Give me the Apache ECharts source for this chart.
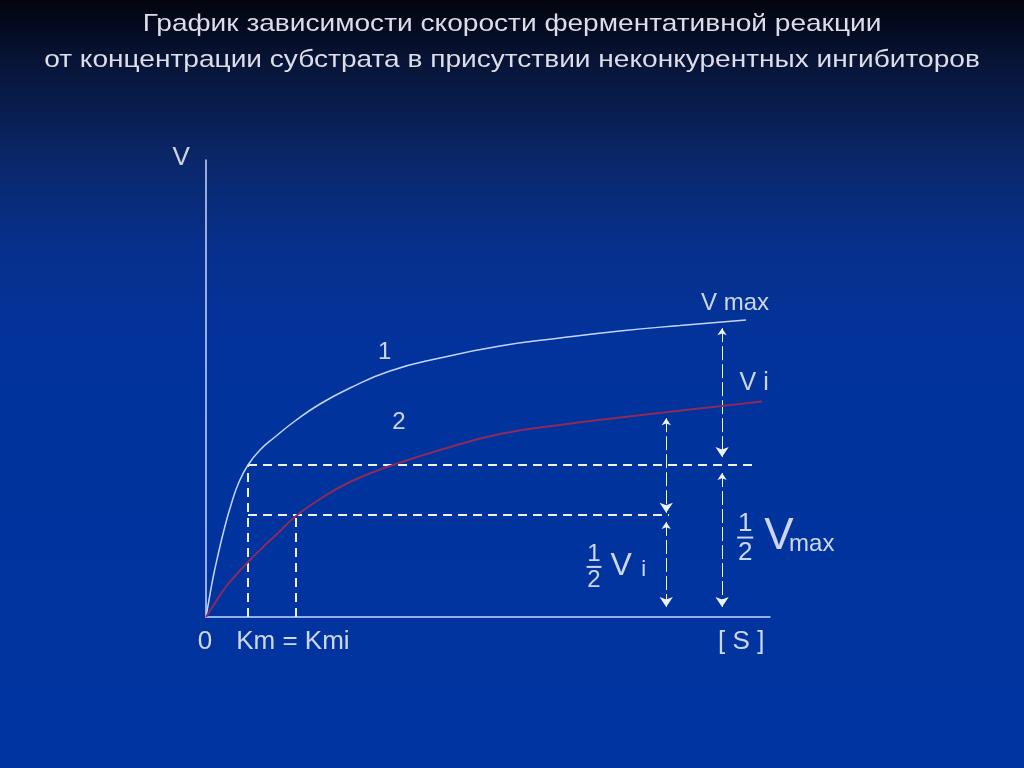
<!DOCTYPE html>
<html>
<head>
<meta charset="utf-8"/>
<title>График зависимости скорости ферментативной реакции</title>
<script src="https://cdn.jsdelivr.net/npm/echarts@6/dist/echarts.min.js"></script>
<style>
  html, body { margin: 0; padding: 0; background: #0033a0; }
  #chart { width: 1024px; height: 768px; }
</style>
</head>
<body>
<div id="chart"></div>
<script type="text/javascript">
    // заголовок
    var titleLines = ['График зависимости скорости ферментативной реакции',
        'от концентрации субстрата в присутствии неконкурентных ингибиторов'];

    // кривая 1 - без ингибитора
    var curve1X = [0, 0.53, 1.24, 2.13, 3.19, 4.43, 5.85, 7.45, 9.57, 12.23, 15.78, 20.21, 25.53, 32.62, 41.49, 52.13, 62.77, 73.40, 84.04, 95.74];
    var curve1Y = [0, 3.72, 8.53, 13.57, 19.04, 24.51, 29.54, 33.26, 36.54, 39.39, 42.89, 46.61, 50.11, 53.83, 56.67, 59.30, 61.05, 62.58, 63.79, 64.99];
    // кривая 2 - с неконкурентным ингибитором
    var curve2X = [0, 1.60, 3.37, 5.32, 7.45, 9.93, 12.77, 15.96, 20.21, 25.53, 32.62, 41.49, 52.13, 62.77, 73.40, 85.82, 98.58];
    var curve2Y = [0, 3.06, 6.35, 9.19, 12.04, 15.10, 18.38, 22.10, 25.82, 29.54, 33.04, 36.54, 40.04, 42.01, 43.65, 45.40, 47.16];

    // Km, Kmi и половины скоростей
    var kmX = 7.45;
    var kmiX = 16.0;
    var halfVmax = 33.3;
    var halfVi = 22.3;
    var halfVmaxEnd = 97.3;
    var halfViEnd = 82.1;

    // стрелки: x, начало, конец
    var arrowX = [91.5, 91.5, 81.6, 81.6];
    var arrowFrom = [63.2, 31.5, 43.5, 20.8];
    var arrowTo = [35.0, 2.2, 22.8, 2.2];

    // подписи
    var noteText = ['V', 'V max', 'V i', '1', '2', '0', 'Km = Kmi', '[ S ]',
        'fracA', 'V', 'max', 'fracB', 'V', 'i'];
    var noteX = [-4.4, 93.8, 97.2, 31.7, 34.2, -0.2, 15.4, 94.9, 95.6, 101.6, 107.4, 68.8, 73.6, 77.6];
    var noteY = [100.4, 68.7, 51.2, 58.0, 42.5, -5.5, -5.5, -5.5, 17.1, 17.5, 16.0, 10.7, 11.2, 10.4];
    var noteSize = [26, 24, 25, 24, 24, 26, 26, 26, 26, 44, 24, 24, 32, 22];

    var font = 'Arial';

    var zip = function (xs, ys) {
        return xs.map(function (x, i) { return [x, ys[i]]; });
    };

    var guides = [
        { coords: [[kmX, halfVmax], [halfVmaxEnd, halfVmax]] },
        { coords: [[kmX, halfVi], [halfViEnd, halfVi]] },
        { coords: [[kmX, 0], [kmX, halfVmax]] },
        { coords: [[kmiX, 0], [kmiX, halfVi]] }
    ];

    var arrows = arrowX.map(function (x, i) {
        return { coords: [[x, arrowFrom[i]], [x, arrowTo[i]]] };
    });

    var fraction = function (size) {
        return {
            n: { fontSize: size, lineHeight: size * 0.85, color: '#ffffff', fontFamily: font },
            b: { fontSize: 1, width: size * 0.62, height: 2, lineHeight: 5, backgroundColor: '#ffffff' },
            d: { fontSize: size, lineHeight: size * 0.95, color: '#ffffff', fontFamily: font }
        };
    };

    var notes = noteText.map(function (t, i) {
        var item = { value: [noteX[i], noteY[i]], label: {} };
        if (t === 'fracA' || t === 'fracB') {
            item.label.formatter = '{n|1}\n{b| }\n{d|2}';
            item.label.rich = fraction(noteSize[i]);
        } else {
            item.label.formatter = t;
            item.label.fontSize = noteSize[i];
        }
        return item;
    });

    // заголовок растянут по ширине, как на слайде
    var titleGraphic = titleLines.map(function (t, i) {
        return {
            type: 'text', x: 512, y: 24 + i * 36, scaleX: 1.17, silent: true,
            style: {
                text: t, fill: '#dcdde8', font: '24px Arial',
                textAlign: 'center', textVerticalAlign: 'middle'
            }
        };
    });

    var myChart = echarts.init(document.getElementById('chart'));
    var option = {
        backgroundColor: {
            type: 'linear', x: 0, y: 0, x2: 0, y2: 1,
            colorStops: [
                { offset: 0, color: '#02040e' },
                { offset: 0.08, color: '#071436' },
                { offset: 0.2, color: '#0a2666' },
                { offset: 0.32, color: '#07308c' },
                { offset: 0.45, color: '#02339c' },
                { offset: 1, color: '#0034a0' }
            ]
        },
        animation: false,
        graphic: titleGraphic,
        grid: { left: 206, right: 254, top: 160, bottom: 151 },
        xAxis: {
            type: 'value', min: 0, max: 100,
            axisLine: { show: true, lineStyle: { color: '#c8d6ff', width: 1.5 } },
            axisTick: { show: false }, axisLabel: { show: false }, splitLine: { show: false }
        },
        yAxis: {
            type: 'value', min: 0, max: 100,
            axisLine: { show: true, lineStyle: { color: '#c8d6ff', width: 1.5 } },
            axisTick: { show: false }, axisLabel: { show: false }, splitLine: { show: false }
        },
        series: [
            {
                name: '1', type: 'line', data: zip(curve1X, curve1Y),
                smooth: 0.5, showSymbol: false,
                lineStyle: { color: '#c4d4ff', width: 1.5 }
            },
            {
                name: '2', type: 'line', data: zip(curve2X, curve2Y),
                smooth: 0.5, showSymbol: false,
                lineStyle: { color: '#8c2a5c', width: 2 }
            },
            {
                type: 'lines', coordinateSystem: 'cartesian2d', data: guides,
                symbol: 'none', silent: true,
                lineStyle: { color: '#eef2ff', width: 2, type: [9, 6], opacity: 1 }
            },
            {
                type: 'lines', coordinateSystem: 'cartesian2d', data: arrows,
                symbol: ['arrow', 'arrow'], symbolSize: [7, 10], silent: true,
                lineStyle: { color: '#eef2ff', width: 1, type: [14, 4], opacity: 1 }
            },
            {
                type: 'scatter', data: notes, symbolSize: 0, clip: false, silent: true,
                label: {
                    show: true, position: 'inside', color: '#ffffff',
                    fontFamily: font, align: 'center', verticalAlign: 'middle'
                }
            }
        ]
    };
    myChart.setOption(option);
</script>
</body>
</html>
